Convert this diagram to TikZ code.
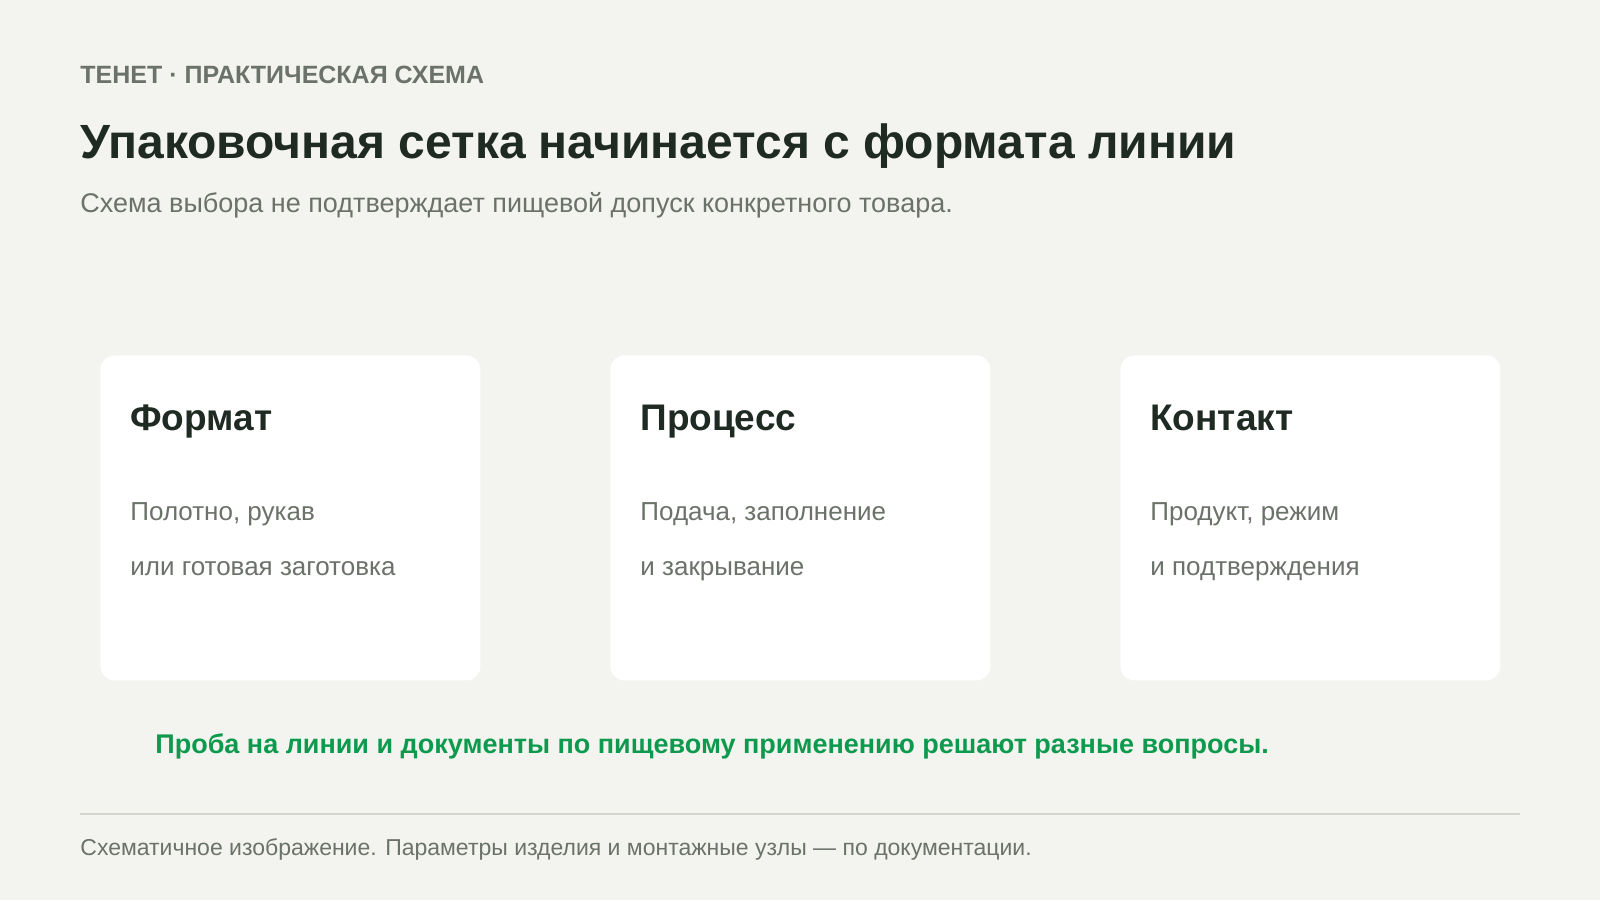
\documentclass[tikz,border=0pt]{standalone}
\usepackage{fontspec}
\setmainfont{Liberation Sans}
\usetikzlibrary{positioning}
\definecolor{paper}{HTML}{F3F4EF}
\definecolor{ink}{HTML}{1F2A23}
\definecolor{muted}{HTML}{6B7269}
\definecolor{leaf}{HTML}{0E9A4E}
\definecolor{rule}{HTML}{D3D6CF}
\begin{document}
\begin{tikzpicture}[x=0.5pt,y=-0.5pt]
	\tikzset{every node/.style={inner sep=0pt,anchor=base west},
		kicker/.style={text=muted,font=\fontsize{12.5pt}{15pt}\selectfont\bfseries},
		headline/.style={text=ink,font=\fontsize{24pt}{28pt}\selectfont\bfseries},
		subline/.style={text=muted,font=\fontsize{13.5pt}{16pt}\selectfont},
		card/.style={fill=white,rounded corners=7pt,anchor=north west,minimum width=190pt,minimum height=162.5pt},
		cardhead/.style={text=ink,font=\fontsize{18.5pt}{22pt}\selectfont\bfseries},
		cardtext/.style={text=muted,font=\fontsize{13pt}{15pt}\selectfont},
		note/.style={text=leaf,font=\fontsize{13.5pt}{16pt}\selectfont\bfseries},
		foot/.style={text=muted,font=\fontsize{11.5pt}{14pt}\selectfont}}
	\fill[paper] (0,0) rectangle (1600,900);
	% header
	\node[kicker] (kicker) at (80,83) {ТЕНЕТ · ПРАКТИЧЕСКАЯ СХЕМА};
	\node[headline] (title) at (80,158) {Упаковочная сетка начинается с формата линии};
	\node[subline] (sub) at (80,212) {Схема выбора не подтверждает пищевой допуск конкретного товара.};
	% cards
	\foreach \i/\x/\head/\one/\two in {1/100/Формат/{Полотно, рукав}/{или готовая заготовка},
		2/610/Процесс/{Подача, заполнение}/{и закрывание},
		3/1120/Контакт/{Продукт, режим}/{и подтверждения}}{
		\node[card] (card\i) at (\x,355) {};
		\node[cardhead] (head\i) at (\x+30,430) {\head};
		\node[cardtext] (one\i) at (\x+30,520) {\one};
		\node[cardtext] (two\i) at (\x+30,575) {\two};
	}
	\node[note] (note) at (155,753) {Проба на линии и документы по пищевому применению решают разные вопросы.};
	% footer
	\coordinate (ruleL) at (80,814);
	\coordinate (ruleR) at (1520,814);
	\draw[rule,line width=1pt] (ruleL) -- (ruleR);
	\node[foot] (foot) at (80,855) {Схематичное изображение. Параметры изделия и монтажные узлы — по документации.};
\end{tikzpicture}
\end{document}
